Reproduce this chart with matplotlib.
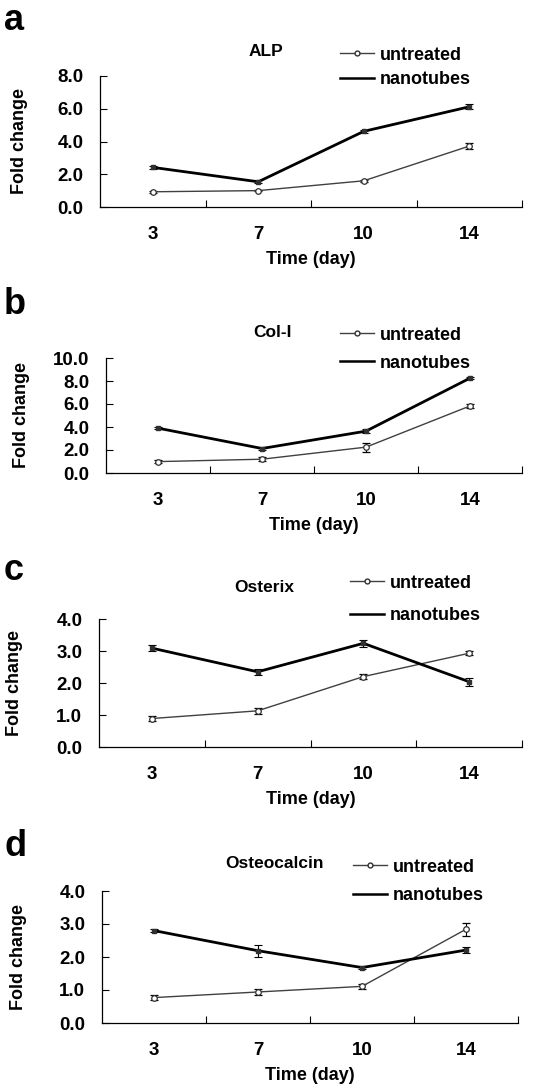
import matplotlib.pyplot as plt
import numpy as np

plt.rcParams['font.family'] = ['Liberation Sans', 'DejaVu Sans']
plt.rcParams['font.weight'] = 'bold'

days = ["3", "7", "10", "14"]
genes = ["ALP", "Col-I", "Osterix", "Osteocalcin"]
letters = ["a", "b", "c", "d"]

untreated = [[0.93, 1.0, 1.6, 3.72],
             [0.99, 1.2, 2.25, 5.83],
             [0.89, 1.13, 2.2, 2.93],
             [0.77, 0.94, 1.11, 2.84]]
untreated_err = [[0.05, 0.05, 0.07, 0.2],
                 [0.1, 0.15, 0.4, 0.2],
                 [0.07, 0.1, 0.08, 0.07],
                 [0.07, 0.1, 0.08, 0.2]]
nanotubes = [[2.42, 1.54, 4.62, 6.12],
             [3.9, 2.13, 3.64, 8.25],
             [3.09, 2.35, 3.24, 2.04],
             [2.8, 2.19, 1.68, 2.21]]
nanotubes_err = [[0.08, 0.1, 0.1, 0.15],
                 [0.08, 0.1, 0.15, 0.1],
                 [0.1, 0.1, 0.1, 0.13],
                 [0.05, 0.18, 0.04, 0.1]]
ymax = [8.0, 10.0, 4.0, 4.0]
ystep = [2.0, 2.0, 1.0, 1.0]

W, H = 552, 1084
fig = plt.figure(figsize=(W / 100, H / 100), dpi=100)

# axes boxes in pixels: left, right, top, bottom
boxes = [(100, 522, 76, 207), (106, 522, 358, 473), (99, 522, 619, 747), (102, 518, 891, 1023)]
letter_y = [21, 305, 571, 846]
title_pos = [(266, 51), (272, 332), (264, 587), (275, 863)]
# legend: x of handle start, y of untreated row, y of nanotubes row
leg_pos = [(340, 55, 80), (340, 335, 363), (350, 583, 616), (353, 867, 896)]
ylab_x = [28, 30, 23, 27]

x = np.arange(4) + 0.5
for i in range(4):
    l, r, t, b = boxes[i]
    ax = fig.add_axes([l / W, 1 - b / H, (r - l) / W, (b - t) / H])
    ax.errorbar(x, untreated[i], yerr=untreated_err[i], color="#404040", lw=1.0,
                marker="o", ms=4, mfc="white", mec="#303030", mew=0.9,
                ecolor="black", elinewidth=0.8, capsize=3, capthick=0.8, label="untreated")
    ax.errorbar(x, nanotubes[i], yerr=nanotubes_err[i], color="black", lw=2.0,
                marker="s", ms=3, mfc="#303030", mec="#303030",
                ecolor="black", elinewidth=0.8, capsize=3, capthick=0.8, label="nanotubes")
    ax.set_xlim(0, 4)
    ax.set_ylim(0, ymax[i])
    ticks = np.arange(0, ymax[i] + 0.01, ystep[i])
    ax.set_yticks(ticks)
    ax.set_yticklabels(["%.1f" % v for v in ticks], fontsize=13.5)
    ax.set_xticks([1, 2, 3, 4])
    ax.set_xticklabels([])
    ax.set_xticks(x, minor=True)
    ax.set_xticklabels(days, minor=True, fontsize=13.5)
    ax.tick_params(axis="x", which="major", direction="in", length=5, width=0.8)
    ax.tick_params(axis="x", which="minor", length=0, pad=13.5)
    ax.tick_params(axis="y", direction="in", length=5, width=0.8, pad=12)
    for s in ["top", "right"]:
        ax.spines[s].set_visible(False)
    for s in ["left", "bottom"]:
        ax.spines[s].set_linewidth(0.9)
    ax.set_xlabel("Time (day)", fontsize=13, fontweight="bold", labelpad=6)
    ax.set_ylabel("Fold change", fontsize=13, fontweight="bold")
    ax.yaxis.set_label_coords((ylab_x[i] - l) / (r - l), 0.5)

    fig.text(4 / W, 1 - letter_y[i] / H, letters[i], fontsize=26, fontweight="bold", va="center")
    tx, ty = title_pos[i]
    fig.text(tx / W, 1 - ty / H, genes[i], fontsize=12.5, fontweight="bold", ha="center", va="center")

    lx, y1, y2 = leg_pos[i]
    h1 = plt.Line2D([], [], color="#404040", lw=1.0, marker="o", ms=3.5, mfc="white", mec="#303030")
    h2 = plt.Line2D([], [], color="black", lw=1.8)
    for h, lab, yy in [(h1, "untreated", y1), (h2, "nanotubes", y2)]:
        fig.legend([h], [lab], loc="center left", bbox_to_anchor=(lx / W, 1 - yy / H),
                   frameon=False, handlelength=1.9, handletextpad=0.3,
                   borderpad=0, borderaxespad=0, prop={"weight": "bold", "size": 13})

fig.savefig("out.png", dpi=100)
